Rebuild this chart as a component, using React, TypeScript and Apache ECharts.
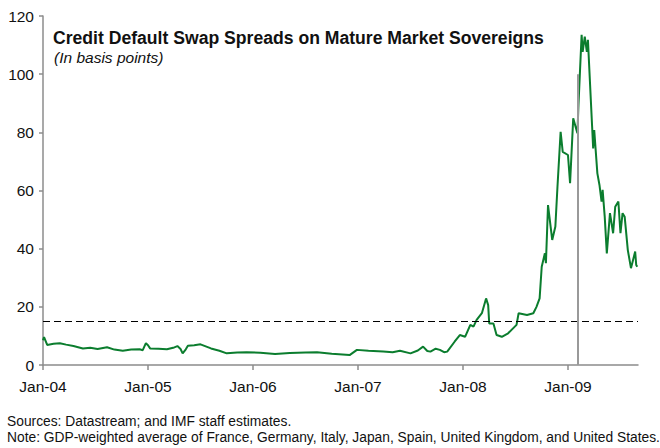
import React, { useEffect, useRef } from "react";
import * as echarts from "echarts";

// Dates as fractional years (e.g. 2008.25 = early April 2008)
const dates: number[] = [
  2004.0, 2004.01, 2004.04, 2004.1, 2004.16, 2004.22, 2004.29, 2004.38, 2004.45, 2004.52, 2004.61, 2004.68,
  2004.76, 2004.84, 2004.92, 2004.95, 2004.98, 2005.0, 2005.02, 2005.1, 2005.18, 2005.24, 2005.28, 2005.31,
  2005.33, 2005.36, 2005.38, 2005.44, 2005.5, 2005.55, 2005.6, 2005.68, 2005.75, 2005.85, 2005.94, 2006.07,
  2006.21, 2006.35, 2006.5, 2006.61, 2006.75, 2006.92, 2006.99, 2007.1, 2007.24, 2007.33, 2007.4, 2007.5,
  2007.57, 2007.62, 2007.66, 2007.69, 2007.74, 2007.78, 2007.82, 2007.85, 2007.92, 2007.97, 2008.02, 2008.07,
  2008.1, 2008.13, 2008.18, 2008.22, 2008.24, 2008.25, 2008.29, 2008.32, 2008.37, 2008.43, 2008.51, 2008.53,
  2008.61, 2008.67, 2008.7, 2008.73, 2008.75, 2008.78, 2008.79, 2008.81, 2008.85, 2008.88, 2008.9, 2008.93,
  2008.95, 2009.0, 2009.02, 2009.05, 2009.09, 2009.1, 2009.13, 2009.14, 2009.16, 2009.18, 2009.19, 2009.23,
  2009.24, 2009.25, 2009.28, 2009.3, 2009.32, 2009.33, 2009.35, 2009.37, 2009.4, 2009.43, 2009.45, 2009.48,
  2009.5, 2009.52, 2009.54, 2009.57, 2009.6, 2009.62, 2009.64, 2009.65, 2009.66,
];

// CDS spreads, basis points
const spreads: number[] = [
  8.5, 9.6, 6.9, 7.3, 7.5, 7.0, 6.5, 5.7, 5.9, 5.5, 6.1, 5.3,
  4.9, 5.3, 5.4, 5.1, 7.5, 6.8, 5.7, 5.6, 5.4, 5.9, 6.5, 5.5,
  4.0, 5.4, 6.6, 6.8, 7.1, 6.4, 5.7, 4.9, 4.0, 4.3, 4.4, 4.2,
  3.8, 4.1, 4.3, 4.4, 3.9, 3.4, 5.2, 4.9, 4.6, 4.4, 4.9, 4.0,
  5.0, 6.3, 4.8, 4.6, 5.6, 5.2, 4.4, 4.6, 8.0, 10.3, 9.7, 13.8,
  13.2, 15.5, 17.8, 22.9, 20.6, 14.3, 14.3, 10.3, 9.7, 10.9, 13.8, 17.8,
  17.2, 17.8, 20.0, 22.9, 33.8, 38.4, 35.0, 55.0, 43.0, 47.6, 61.3, 80.2,
  73.3, 72.2, 62.5, 84.8, 79.7, 89.4, 113.5, 107.7, 112.9, 107.7, 111.8, 82.0,
  74.5, 80.8, 65.9, 61.9, 56.2, 60.2, 51.0, 38.4, 52.2, 45.3, 54.4, 56.2,
  45.3, 52.2, 51.0, 39.5, 33.3, 36.1, 39.0, 34.4, 33.8,
];

const yearTicks: number[] = [2004, 2005, 2006, 2007, 2008, 2009];
const xMin = 2004;
const xMax = 2009.667;
const thresholdLevel = 15;
const markerDate = 2009.095;
const markerTop = 100;

const titleText = "Credit Default Swap Spreads on Mature Market Sovereigns";
const subtitleText = "(In basis points)";
const sourceText = "Sources: Datastream; and IMF staff estimates.";
const noteText =
  "Note: GDP-weighted average of France, Germany, Italy, Japan, Spain, United Kingdom, and United States.";

export default function App() {
  const ref = useRef<HTMLDivElement>(null);
  useEffect(() => {
    if (!ref.current) return;
    const chart = echarts.init(ref.current, null, { renderer: "svg" });
    const font = "Liberation Sans, Arial, sans-serif";
    const axisColor = "#8c8c8c";
    chart.setOption({
      animation: false,
      backgroundColor: "#ffffff",
      grid: { left: 43, right: 22, top: 16, bottom: 83 },
      xAxis: {
        type: "value",
        min: xMin,
        max: xMax,
        interval: 1,
        splitLine: { show: false },
        axisLine: { lineStyle: { color: axisColor, width: 1.5 } },
        axisTick: { customValues: yearTicks, length: 5, lineStyle: { color: axisColor, width: 1.5 } },
        axisLabel: {
          customValues: yearTicks,
          margin: 13,
          color: "#111",
          fontFamily: font,
          fontSize: 15.5,
          formatter: (v: number) => "Jan-" + String(Math.round(v)).slice(2),
        },
      },
      yAxis: {
        type: "value",
        min: 0,
        max: 120,
        interval: 20,
        splitLine: { show: false },
        axisLine: { show: true, lineStyle: { color: axisColor, width: 1.5 } },
        axisTick: { show: true, length: 4, lineStyle: { color: axisColor, width: 1.5 } },
        axisLabel: { margin: 9, color: "#111", fontFamily: font, fontSize: 15.5 },
      },
      series: [
        {
          type: "line",
          data: dates.map((d, i) => [d, spreads[i]]),
          showSymbol: false,
          symbol: "none",
          lineStyle: { color: "#0b7d2e", width: 2 },
          z: 3,
        },
        {
          type: "line",
          data: [],
          z: 2,
          markLine: {
            silent: true,
            symbol: "none",
            label: { show: false },
            data: [
              [
                { coord: [xMin, thresholdLevel], lineStyle: { color: "#000", width: 1, type: [7, 4] } },
                { coord: [xMax, thresholdLevel] },
              ],
              [
                { coord: [markerDate, 0], lineStyle: { color: "#999999", width: 2, type: "solid" } },
                { coord: [markerDate, markerTop] },
              ],
            ],
          },
        },
      ],
      graphic: [
        {
          type: "text",
          left: 53,
          top: 29,
          style: { text: titleText, fontFamily: font, fontSize: 17.6, fontWeight: "bold", fill: "#111" },
        },
        {
          type: "text",
          left: 54,
          top: 49,
          style: { text: subtitleText, fontFamily: font, fontSize: 15.5, fontStyle: "italic", fill: "#111" },
        },
        {
          type: "text",
          left: 7,
          top: 414,
          style: { text: sourceText, fontFamily: font, fontSize: 13.8, fill: "#111" },
        },
        {
          type: "text",
          left: 7,
          top: 430,
          style: { text: noteText, fontFamily: font, fontSize: 13.8, fill: "#111" },
        },
      ],
    });
    return () => chart.dispose();
  }, []);
  return (
    <div
      ref={ref}
      style={{ position: "fixed", left: 0, top: 0, width: 660, height: 448, background: "#fff" }}
    />
  );
}
